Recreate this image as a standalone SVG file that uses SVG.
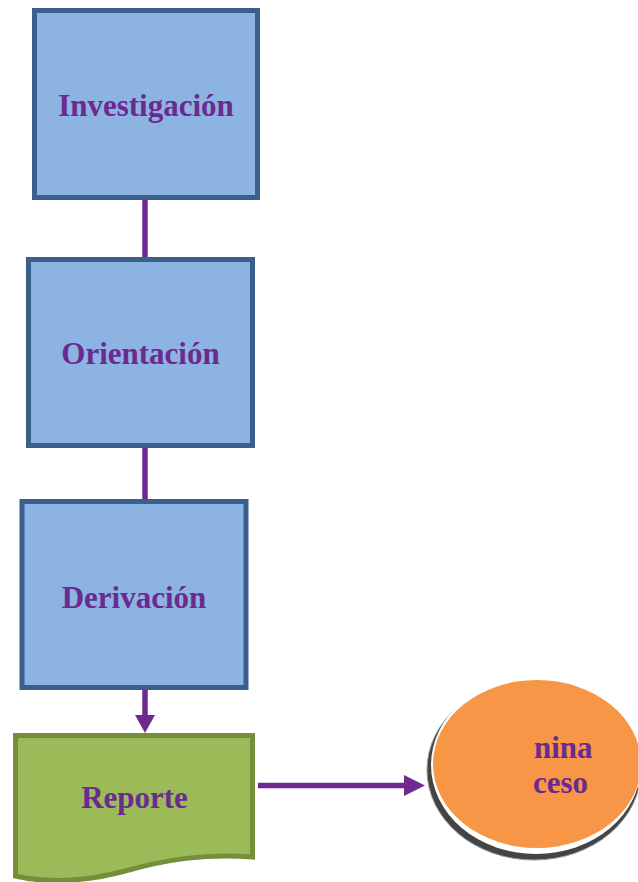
<svg xmlns="http://www.w3.org/2000/svg" width="638" height="882" viewBox="0 0 638 882">
<style>
.box{fill:#8db3e2;stroke:#3a5f8b;stroke-width:5}
.lbl{font-family:"Liberation Serif","Times New Roman",serif;font-weight:bold;font-size:31px;fill:#6b2a8f}
.conn{stroke:#6f2a91;stroke-width:5.5;fill:none}
.head{fill:#6f2a91}
</style>
<rect width="638" height="882" fill="#ffffff"/>
<g id="connectors">
<line class="conn" x1="145" y1="198" x2="145" y2="259"/>
<line class="conn" x1="145" y1="446" x2="145" y2="501"/>
<line class="conn" x1="145" y1="688" x2="145" y2="717"/>
<polygon class="head" points="135,715 155,715 145,733"/>
<line class="conn" x1="258" y1="785.5" x2="408" y2="785.5"/>
<polygon class="head" points="404,775 425,785.5 404,796"/>
</g>
<g id="investigacion">
<rect class="box" x="34.5" y="10.5" width="223" height="187"/>
<text class="lbl" x="146" y="116" text-anchor="middle">Investigación</text>
</g>
<g id="orientacion">
<rect class="box" x="28.5" y="259.5" width="224" height="186"/>
<text class="lbl" x="140.5" y="364" text-anchor="middle">Orientación</text>
</g>
<g id="derivacion">
<rect class="box" x="22" y="501.5" width="224" height="186"/>
<text class="lbl" x="134" y="608" text-anchor="middle">Derivación</text>
</g>
<g id="reporte">
<path d="M15.5 735.5 H252.5 V857 C205 853 165 860 125 871 C85 882 45 883 15.5 876 Z" fill="#9bbb59" stroke="#738f3c" stroke-width="5"/>
<text class="lbl" x="134.5" y="808" text-anchor="middle">Reporte</text>
</g>
<g id="proceso">
<ellipse cx="534" cy="770" rx="107" ry="90" fill="#444444" stroke="#999999" stroke-width="1"/>
<ellipse cx="536" cy="765" rx="105" ry="89" fill="#ffffff"/>
<ellipse cx="537" cy="764" rx="104" ry="84" fill="#f79646"/>
<text class="lbl" x="534" y="758">nina</text>
<text class="lbl" x="533" y="793">ceso</text>
</g>
</svg>
